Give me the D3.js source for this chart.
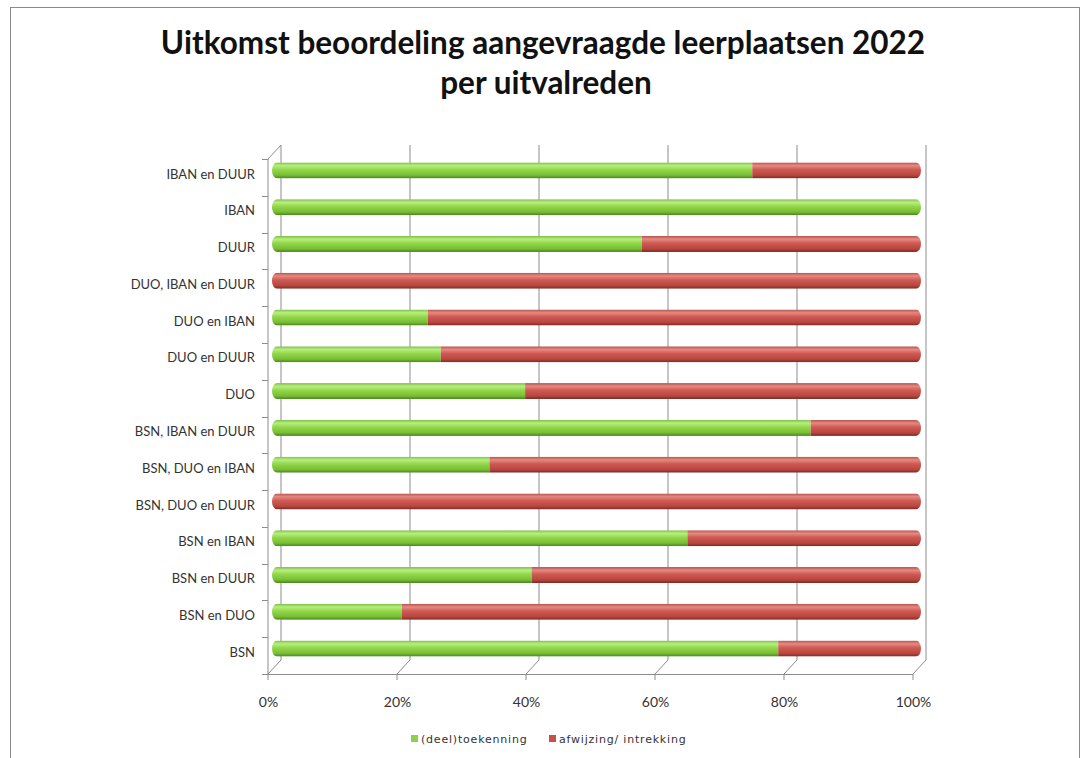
<!DOCTYPE html>
<html>
<head>
<meta charset="utf-8">
<script src="https://cdn.jsdelivr.net/npm/d3@7"></script>
<style>
    body {
        margin: 0;
        background: #fff;
    }
    text {
        font-family: 'Lato', sans-serif;
        fill: #333;
    }
    .title {
        font-size: 31.5px;
        font-weight: bold;
        fill: #111;
    }
    .cat text {
        font-size: 13px;
    }
    .xax text {
        font-size: 14px;
    }
    .legend {
        font-family: 'DejaVu Sans', sans-serif;
        font-size: 11px;
        letter-spacing: 0.8px;
    }
</style>
</head>
<body>
<svg width="1088" height="758"></svg>
<script>

    // categories top to bottom, share (deel)toekenning in %
    var categories = ["IBAN en DUUR", "IBAN", "DUUR", "DUO, IBAN en DUUR", "DUO en IBAN",
                      "DUO en DUUR", "DUO", "BSN, IBAN en DUUR", "BSN, DUO en IBAN",
                      "BSN, DUO en DUUR", "BSN en IBAN", "BSN en DUUR", "BSN en DUO", "BSN"];
    var toekenning = [74, 100, 57, 0, 24, 26, 39, 83, 33.5, 0, 64, 40, 20, 78];
    var afwijzing  = [26, 0, 43, 100, 76, 74, 61, 17, 66.5, 100, 36, 60, 80, 22];
    var seriesNames = ["(deel)toekenning", "afwijzing/ intrekking"];
    var xTicks = [0, 20, 40, 60, 80, 100];

    var svg = d3.select("svg");

    // back wall of the 3d plot, the front is shifted by depth
    var back = {left: 281, right: 926, top: 145, bottom: 660};
    var depth = {dx: -13, dy: 14};
    var barH = 16;

    var xBack = d3.scaleLinear().domain([0, 100]).range([back.left, back.right]);
    var xFront = d3.scaleLinear().domain([0, 100]).range([back.left + depth.dx, back.right + depth.dx]);
    var xBar = d3.scaleLinear().domain([0, 100]).range([272, 921]);

    var yFront = d3.scaleBand().domain(categories)
        .range([back.top + depth.dy, back.bottom + depth.dy]);
    var yBar = d3.scaleBand().domain(categories)
        .range([back.top + 7, back.bottom + 7]);

    var data = categories.map(function (c, i) {
        return {cat: c, toekenning: toekenning[i], afwijzing: afwijzing[i]};
    });
    var stack = d3.stack().keys(["toekenning", "afwijzing"]).offset(d3.stackOffsetExpand);
    var stacked = stack(data);

    // outer chart border
    svg.append("rect")
        .attr("x", 10.5).attr("y", 7.5)
        .attr("width", 1069).attr("height", 770)
        .attr("fill", "none")
        .attr("stroke", "#8a8a8a");

    // title
    svg.append("text").attr("class", "title")
        .attr("x", 543).attr("y", 54).attr("text-anchor", "middle")
        .text("Uitkomst beoordeling aangevraagde leerplaatsen 2022");
    svg.append("text").attr("class", "title")
        .attr("x", 546).attr("y", 94).attr("text-anchor", "middle")
        .text("per uitvalreden");

    // gradients for the cylinders
    var defs = svg.append("defs");
    function cyl(id, stops) {
        var g = defs.append("linearGradient").attr("id", id)
            .attr("x1", 0).attr("y1", 0).attr("x2", 0).attr("y2", 1);
        stops.forEach(function (s) {
            g.append("stop").attr("offset", s[0]).attr("stop-color", s[1]);
        });
    }
    cyl("gGreen", [[0, "#7fbf45"], [0.2, "#b8ee80"], [0.45, "#92d84a"], [0.8, "#78bd34"], [1, "#4a8420"]]);
    cyl("gRed", [[0, "#b9524c"], [0.2, "#e48a82"], [0.45, "#cf5a52"], [0.8, "#b8463f"], [1, "#7a2a26"]]);
    var fills = ["url(#gGreen)", "url(#gRed)"];

    var grid = svg.append("g").attr("stroke", "#8c8c8c").attr("fill", "none");

    // back wall gridlines with the floor diagonals and ticks
    xTicks.forEach(function (t) {
        grid.append("path")
            .attr("d", "M" + xBack(t) + "," + back.top + "V" + back.bottom +
                "L" + xFront(t) + "," + (back.bottom + depth.dy) + "v6");
    });
    // floor front edge
    grid.append("line")
        .attr("x1", xFront(0)).attr("x2", xFront(100))
        .attr("y1", back.bottom + depth.dy + 0.5).attr("y2", back.bottom + depth.dy + 0.5);
    // left wall
    grid.append("path")
        .attr("d", "M" + xBack(0) + "," + back.top + "L" + xFront(0) + "," + (back.top + depth.dy) +
            "V" + (back.bottom + depth.dy));
    categories.concat([null]).forEach(function (c, i) {
        var y = Math.round(back.top + depth.dy + i * yFront.step()) + 0.5;
        grid.append("line").attr("x1", xFront(0) - 6).attr("x2", xFront(0)).attr("y1", y).attr("y2", y);
    });

    // bars
    var clip = defs.selectAll("clipPath").data(categories).enter().append("clipPath")
        .attr("id", function (d, i) { return "bar" + i; });
    clip.append("rect")
        .attr("x", xBar(0))
        .attr("width", xBar(100) - xBar(0))
        .attr("y", function (d) { return yBar(d) + yBar.bandwidth() / 2 - barH / 2; })
        .attr("height", barH)
        .attr("rx", 5).attr("ry", barH / 2);

    var rows = svg.append("g").selectAll("g").data(categories).enter().append("g")
        .attr("clip-path", function (d, i) { return "url(#bar" + i + ")"; });

    rows.selectAll("rect")
        .data(function (d, i) { return stacked.map(function (s, k) { return {s: s[i], k: k, cat: d}; }); })
        .enter().append("rect")
        .attr("x", function (d) { return xBar(d.s[0] * 100); })
        .attr("width", function (d) { return xBar(d.s[1] * 100) - xBar(d.s[0] * 100); })
        .attr("y", function (d) { return yBar(d.cat) + yBar.bandwidth() / 2 - barH / 2; })
        .attr("height", barH)
        .attr("fill", function (d) { return fills[d.k]; });

    // category labels
    var yAxis = d3.axisLeft(yFront).tickSize(0).tickPadding(13);
    svg.append("g").attr("class", "cat")
        .attr("transform", "translate(" + xFront(0) + ",-3)")
        .call(yAxis)
        .call(function (g) { g.select(".domain").remove(); })
        .selectAll("text").attr("fill", "#333");

    // percentage labels
    var xAxis = d3.axisBottom(xFront).tickValues(xTicks).tickSize(0).tickPadding(23)
        .tickFormat(function (d) { return d + "%"; });
    svg.append("g").attr("class", "xax")
        .attr("transform", "translate(0," + (back.bottom + depth.dy) + ")")
        .call(xAxis)
        .call(function (g) { g.select(".domain").remove(); })
        .selectAll("text").attr("fill", "#333");
    svg.selectAll(".cat, .xax").attr("font-family", null).attr("font-size", null);

    // legend
    var legendX = [411, 549];
    var legendCol = ["#8fd04a", "#c8504b"];
    seriesNames.forEach(function (n, i) {
        svg.append("rect").attr("x", legendX[i]).attr("y", 735)
            .attr("width", 7).attr("height", 7).attr("fill", legendCol[i]);
        svg.append("text").attr("class", "legend")
            .attr("x", legendX[i] + 10).attr("y", 742.5)
            .text(n);
    });
</script>
</body>
</html>
